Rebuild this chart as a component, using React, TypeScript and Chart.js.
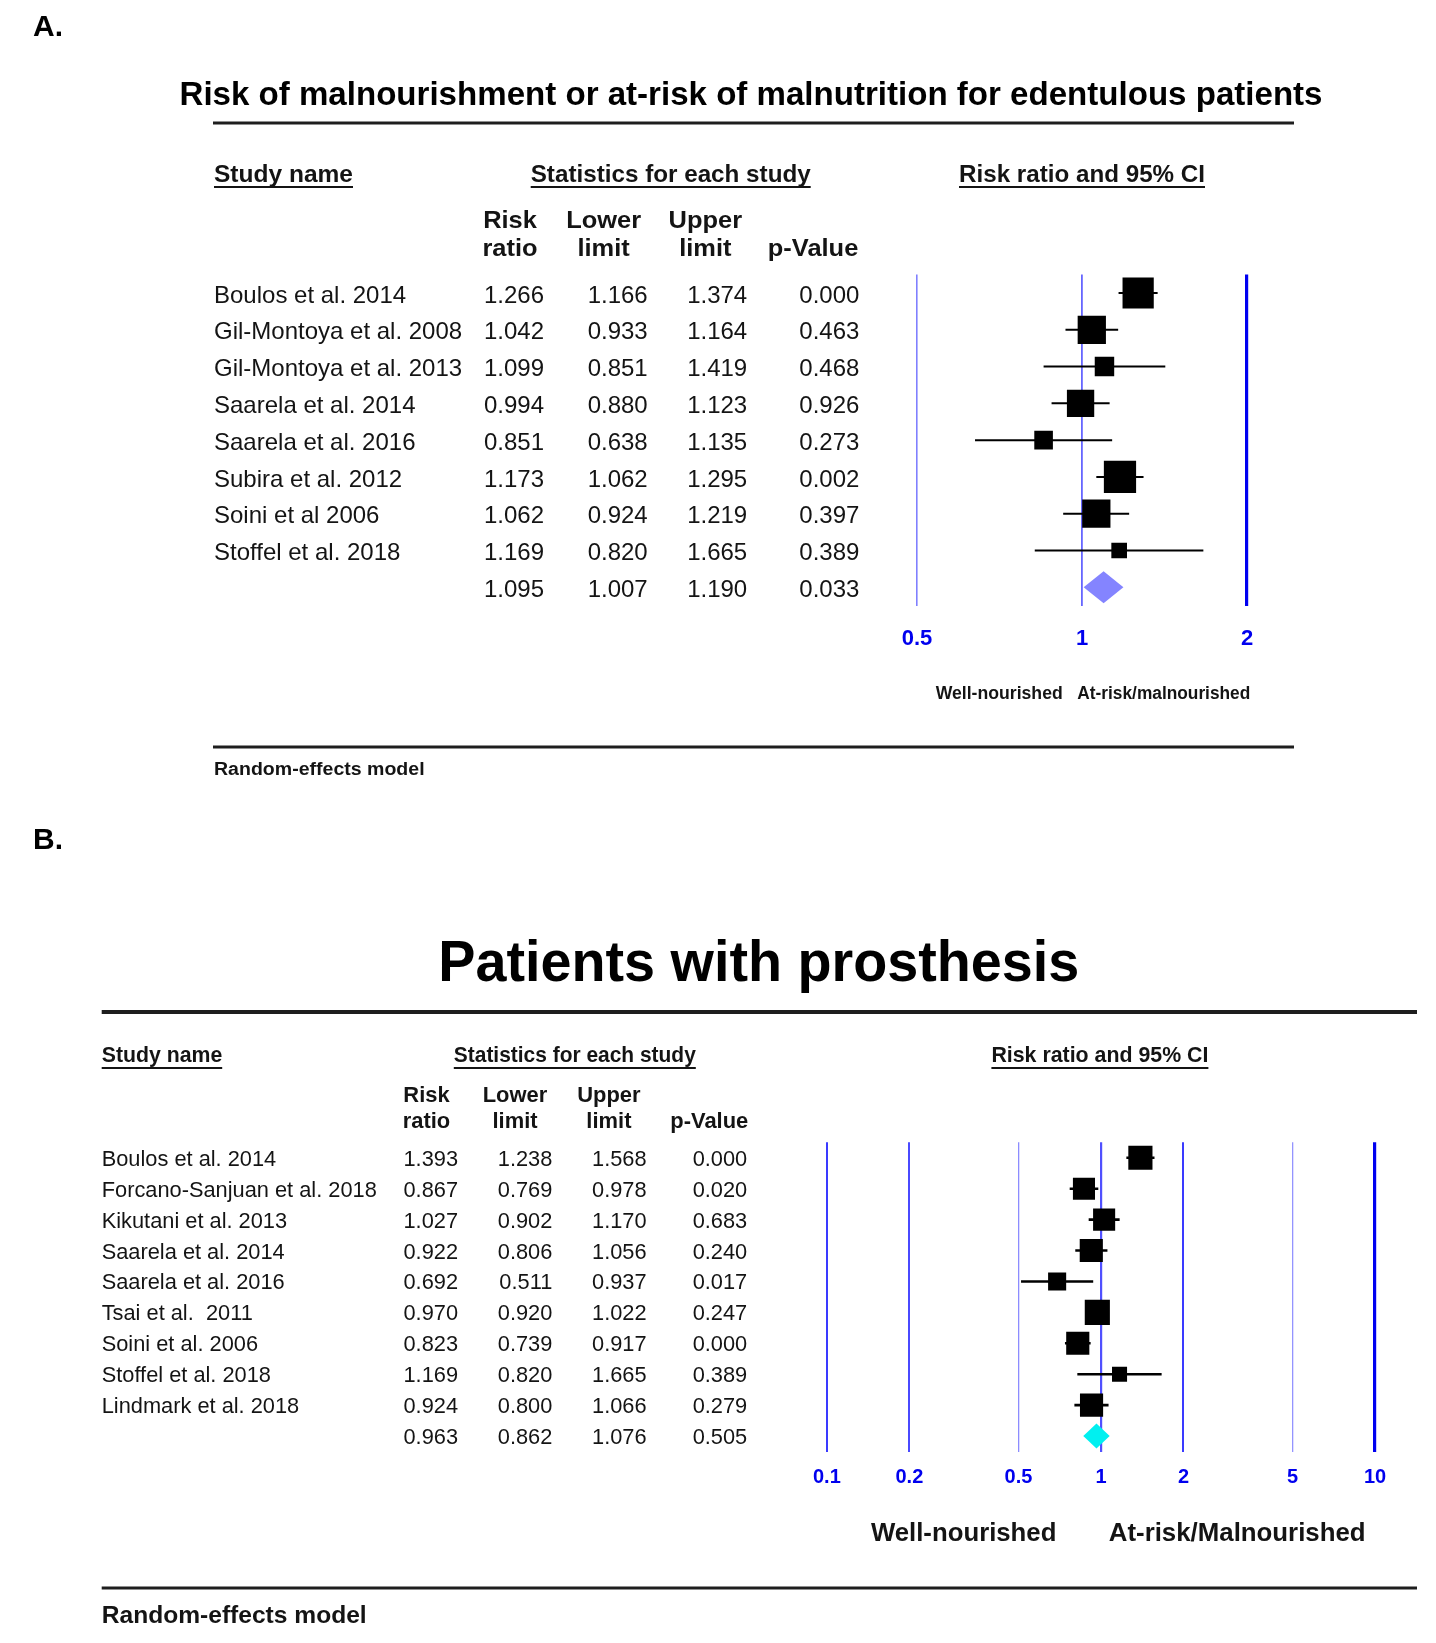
import React, { useEffect, useRef } from 'react';
import { Chart, registerables } from 'chart.js';

Chart.register(...registerables);

// ---------- Panel A data ----------
const titleA = 'Risk of malnourishment or at-risk of malnutrition for edentulous patients';
const studiesA = [
  'Boulos et al. 2014',
  'Gil-Montoya et al. 2008',
  'Gil-Montoya et al. 2013',
  'Saarela et al. 2014',
  'Saarela et al. 2016',
  'Subira et al. 2012',
  'Soini et al 2006',
  'Stoffel et al. 2018',
];
const rrA = [1.266, 1.042, 1.099, 0.994, 0.851, 1.173, 1.062, 1.169];
const lowerA = [1.166, 0.933, 0.851, 0.88, 0.638, 1.062, 0.924, 0.82];
const upperA = [1.374, 1.164, 1.419, 1.123, 1.135, 1.295, 1.219, 1.665];
const pA = [0.0, 0.463, 0.468, 0.926, 0.273, 0.002, 0.397, 0.389];
const weightsA = [18.3, 15.0, 7.1, 14.0, 6.5, 19.5, 15.0, 4.6];
const summaryA = [1.095, 1.007, 1.19];
const summaryPA = 0.033;
const ticksA = [0.5, 1, 2];
const directionA = ['Well-nourished', 'At-risk/malnourished'];

// ---------- Panel B data ----------
const titleB = 'Patients with prosthesis';
const studiesB = [
  'Boulos et al. 2014',
  'Forcano-Sanjuan et al. 2018',
  'Kikutani et al. 2013',
  'Saarela et al. 2014',
  'Saarela et al. 2016',
  'Tsai et al.  2011',
  'Soini et al. 2006',
  'Stoffel et al. 2018',
  'Lindmark et al. 2018',
];
const rrB = [1.393, 0.867, 1.027, 0.922, 0.692, 0.97, 0.823, 1.169, 0.924];
const lowerB = [1.238, 0.769, 0.902, 0.806, 0.511, 0.92, 0.739, 0.82, 0.8];
const upperB = [1.568, 0.978, 1.17, 1.056, 0.937, 1.022, 0.917, 1.665, 1.066];
const pB = [0.0, 0.02, 0.683, 0.24, 0.017, 0.247, 0.0, 0.389, 0.279];
const weightsB = [13.4, 11.2, 11.2, 12.3, 7.5, 14.5, 12.3, 5.2, 12.3];
const summaryB = [0.963, 0.862, 1.076];
const summaryPB = 0.505;
const ticksB = [0.1, 0.2, 0.5, 1, 2, 5, 10];
const directionB = ['Well-nourished', 'At-risk/Malnourished'];

const colHeads = [['Risk', 'ratio'], ['Lower', 'limit'], ['Upper', 'limit'], ['', 'p-Value']];
const sectionHeads = ['Study name', 'Statistics for each study', 'Risk ratio and 95% CI'];
const footer = 'Random-effects model';

const FONT = '"Liberation Sans", Arial, Helvetica, sans-serif';
const INK = '#141414';
const W = 1436;
const H = 1643;

type TOpt = {
  size: number;
  bold?: boolean;
  align?: 'left' | 'right' | 'center';
  w?: number;
  sx?: number;
  color?: string;
  underline?: number;
};

function drawText(ctx: CanvasRenderingContext2D, s: string, x: number, y: number, o: TOpt) {
  ctx.save();
  ctx.font = `${o.bold ? 'bold ' : ''}${o.size}px ${FONT}`;
  ctx.fillStyle = o.color || INK;
  ctx.textBaseline = 'middle';
  ctx.textAlign = 'left';
  const m = ctx.measureText(s).width;
  const sx = o.w ? o.w / m : o.sx || 1;
  const tw = m * sx;
  const align = o.align || 'left';
  const left = align === 'left' ? x : align === 'right' ? x - tw : x - tw / 2;
  ctx.translate(left, y);
  ctx.scale(sx, 1);
  ctx.fillText(s, 0, 0);
  ctx.restore();
  if (o.underline) {
    ctx.save();
    ctx.strokeStyle = INK;
    ctx.lineWidth = 2;
    ctx.beginPath();
    ctx.moveTo(left, y + o.underline);
    ctx.lineTo(left + tw, y + o.underline);
    ctx.stroke();
    ctx.restore();
  }
}

function rule(ctx: CanvasRenderingContext2D, x1: number, x2: number, y: number, lw: number) {
  ctx.save();
  ctx.strokeStyle = '#1e1e1e';
  ctx.lineWidth = lw;
  ctx.beginPath();
  ctx.moveTo(x1, y);
  ctx.lineTo(x2, y);
  ctx.stroke();
  ctx.restore();
}

type Panel = {
  id: string;
  label: string;
  title: string;
  studies: string[];
  rr: number[];
  lower: number[];
  upper: number[];
  p: number[];
  weights: number[];
  summary: number[];
  summaryP: number;
  ticks: number[];
  direction: string[];
  L: any;
};

const layoutA = {
  area: { left: 917, right: 1247, top: 274.6, bottom: 605.7 },
  tickSize: 22,
  tickPad: 20,
  grid: { color: ['#8080ff', '#6666ff', '#0000f0'], width: [1.6, 1.8, 3.2] },
  whisker: 2,
  box: 7.3,
  diamondH: 16,
  diamondColor: '#8484ff',
  label: { x: 33, y: 28, size: 30 },
  title: { cx: 751, y: 96, size: 33, w: 1143 },
  ruleTop: { x1: 213, x2: 1294, y: 123, lw: 3 },
  heads: { y: 175, size: 24, ul: 12, items: [{ x: 214, w: 139, align: 'left' }, { x: 670.7, w: 280, align: 'center' }, { x: 1082, w: 246, align: 'center' }] },
  colHead: { y1: 221, y2: 249, size: 24, sx: 1.06, xs: [510, 603.6, 705.3, 858.3], aligns: ['center', 'center', 'center', 'right'] },
  rows: { nameX: 214, size: 24, dy: 3, numX: [544, 647.7, 747.2, 859.4] },
  dir: { y: 694, size: 17.5, leftRight: 1062.7, rightLeft: 1077.3, w1: 127, w2: 173 },
  ruleBottom: { x1: 213, x2: 1294, y: 747, lw: 3 },
  footer: { x: 214, y: 770, size: 18, w: 210.6 },
};

const layoutB = {
  area: { left: 826.9, right: 1375, top: 1142.3, bottom: 1451.5 },
  tickSize: 20,
  tickPad: 14,
  grid: {
    color: ['#3a3aff', '#4a4aff', '#8c8cff', '#5050ff', '#3a3aff', '#9494ff', '#0000f0'],
    width: [2, 2, 1.3, 2.2, 2, 1.3, 3.2],
  },
  whisker: 2.6,
  box: 6.6,
  diamondH: 12.5,
  diamondColor: '#00f0f0',
  label: { x: 33, y: 841, size: 30 },
  title: { cx: 758.8, y: 965, size: 57, w: 641 },
  ruleTop: { x1: 101.7, x2: 1417, y: 1012, lw: 4 },
  heads: { y: 1056, size: 21.5, ul: 12, items: [{ x: 101.7, w: 120.5, align: 'left' }, { x: 574.8, w: 242, align: 'center' }, { x: 1099.9, w: 217, align: 'center' }] },
  colHead: { y1: 1096, y2: 1122, size: 21.5, sx: 1.02, xs: [426.5, 515, 608.9, 748.3], aligns: ['center', 'center', 'center', 'right'] },
  rows: { nameX: 101.7, size: 21.8, dy: 2, numX: [458, 552.3, 646.6, 747.2] },
  dir: { y: 1534, size: 25.5, leftRight: 1056.4, rightLeft: 1108.8, w1: 185.5, w2: 256.8 },
  ruleBottom: { x1: 101.7, x2: 1417, y: 1588, lw: 3 },
  footer: { x: 101.7, y: 1616, size: 24, w: 265 },
};

const panelA: Panel = {
  id: 'A', label: 'A.', title: titleA, studies: studiesA, rr: rrA, lower: lowerA, upper: upperA,
  p: pA, weights: weightsA, summary: summaryA, summaryP: summaryPA, ticks: ticksA, direction: directionA, L: layoutA,
};
const panelB: Panel = {
  id: 'B', label: 'B.', title: titleB, studies: studiesB, rr: rrB, lower: lowerB, upper: upperB,
  p: pB, weights: weightsB, summary: summaryB, summaryP: summaryPB, ticks: ticksB, direction: directionB, L: layoutB,
};

function makePlugin(P: Panel) {
  const L = P.L;
  return {
    id: 'forest' + P.id,
    afterDatasetsDraw(chart: any) {
      const ctx: CanvasRenderingContext2D = chart.ctx;
      const xs = chart.scales.x;
      const ys = chart.scales.y;
      const yc = ys.getPixelForValue(P.studies.length);
      const xc = xs.getPixelForValue(P.summary[0]);
      const xl = xs.getPixelForValue(P.summary[1]);
      const xr = xs.getPixelForValue(P.summary[2]);
      ctx.save();
      ctx.fillStyle = L.diamondColor;
      ctx.beginPath();
      ctx.moveTo(xl, yc);
      ctx.lineTo(xc, yc - L.diamondH);
      ctx.lineTo(xr, yc);
      ctx.lineTo(xc, yc + L.diamondH);
      ctx.closePath();
      ctx.fill();
      ctx.restore();
    },
    afterDraw(chart: any) {
      const ctx: CanvasRenderingContext2D = chart.ctx;
      const ys = chart.scales.y;
      drawText(ctx, P.label, L.label.x, L.label.y, { size: L.label.size, bold: true, color: '#000' });
      drawText(ctx, P.title, L.title.cx, L.title.y, { size: L.title.size, bold: true, align: 'center', w: L.title.w, color: '#000' });
      rule(ctx, L.ruleTop.x1, L.ruleTop.x2, L.ruleTop.y, L.ruleTop.lw);
      sectionHeads.forEach((h, i) => {
        const it = L.heads.items[i];
        drawText(ctx, h, it.x, L.heads.y, { size: L.heads.size, bold: true, align: it.align, w: it.w, underline: L.heads.ul });
      });
      colHeads.forEach((pair, i) => {
        const a = L.colHead.aligns[i];
        if (pair[0]) drawText(ctx, pair[0], L.colHead.xs[i], L.colHead.y1, { size: L.colHead.size, bold: true, align: a, sx: L.colHead.sx });
        drawText(ctx, pair[1], L.colHead.xs[i], L.colHead.y2, { size: L.colHead.size, bold: true, align: a, sx: L.colHead.sx });
      });
      const R = L.rows;
      P.studies.forEach((name, i) => {
        const y = ys.getPixelForValue(i) + R.dy;
        drawText(ctx, name, R.nameX, y, { size: R.size });
        const vals = [P.rr[i], P.lower[i], P.upper[i], P.p[i]];
        vals.forEach((v, j) => drawText(ctx, v.toFixed(3), R.numX[j], y, { size: R.size, align: 'right' }));
      });
      const ySum = ys.getPixelForValue(P.studies.length) + R.dy;
      [P.summary[0], P.summary[1], P.summary[2], P.summaryP].forEach((v, j) =>
        drawText(ctx, v.toFixed(3), R.numX[j], ySum, { size: R.size, align: 'right' })
      );
      drawText(ctx, P.direction[0], L.dir.leftRight, L.dir.y, { size: L.dir.size, bold: true, align: 'right', w: L.dir.w1 });
      drawText(ctx, P.direction[1], L.dir.rightLeft, L.dir.y, { size: L.dir.size, bold: true, align: 'left', w: L.dir.w2 });
      rule(ctx, L.ruleBottom.x1, L.ruleBottom.x2, L.ruleBottom.y, L.ruleBottom.lw);
      drawText(ctx, footer, L.footer.x, L.footer.y, { size: L.footer.size, bold: true, w: L.footer.w });
    },
  };
}

function makeConfig(P: Panel): any {
  const L = P.L;
  const axisH = 60;
  const datasets: any[] = [];
  const radius = (c: any) => (L.box * Math.sqrt(P.weights[c.dataIndex] || 0)) / Math.SQRT2;
  datasets.push({
    type: 'scatter',
    data: P.rr.map((v, i) => ({ x: v, y: i })),
    pointStyle: 'rect',
    pointRadius: radius,
    pointHoverRadius: radius,
    backgroundColor: '#000',
    borderWidth: 0,
    order: 0,
  });
  P.lower.forEach((lo, i) => {
    datasets.push({
      type: 'scatter',
      showLine: true,
      data: [{ x: lo, y: i }, { x: P.upper[i], y: i }],
      borderColor: '#000',
      borderWidth: L.whisker,
      pointRadius: 0,
      pointHoverRadius: 0,
      order: 1,
    });
  });
  return {
    type: 'scatter',
    data: { datasets },
    plugins: [makePlugin(P)],
    options: {
      animation: false,
      responsive: false,
      events: [],
      layout: {
        padding: {
          left: L.area.left,
          right: W - L.area.right,
          top: L.area.top,
          bottom: H - L.area.bottom - axisH,
        },
      },
      plugins: { legend: { display: false }, tooltip: { enabled: false }, title: { display: false } },
      scales: {
        x: {
          type: 'logarithmic',
          min: P.ticks[0],
          max: P.ticks[P.ticks.length - 1],
          afterBuildTicks: (s: any) => {
            s.ticks = P.ticks.map((v) => ({ value: v }));
          },
          afterFit: (s: any) => {
            s.height = axisH;
          },
          border: { display: false },
          grid: {
            drawTicks: false,
            color: (c: any) => L.grid.color[c.index] || '#8080ff',
            lineWidth: (c: any) => L.grid.width[c.index] || 1,
          },
          ticks: {
            autoSkip: false,
            maxRotation: 0,
            minRotation: 0,
            padding: L.tickPad,
            color: '#0000ee',
            font: { family: FONT, size: L.tickSize, weight: 'bold' },
            callback: (v: any) => String(v),
          },
        },
        y: {
          type: 'linear',
          min: -0.5,
          max: P.studies.length + 0.5,
          reverse: true,
          display: false,
        },
      },
    },
  };
}

export default function App() {
  const refA = useRef<HTMLCanvasElement>(null);
  const refB = useRef<HTMLCanvasElement>(null);
  useEffect(() => {
    const a = new Chart(refA.current as HTMLCanvasElement, makeConfig(panelA));
    const b = new Chart(refB.current as HTMLCanvasElement, makeConfig(panelB));
    return () => {
      a.destroy();
      b.destroy();
    };
  }, []);
  const cs: React.CSSProperties = { position: 'absolute', left: 0, top: 0, width: W, height: H, display: 'block' };
  return (
    <div style={{ position: 'absolute', left: 0, top: 0, width: W, height: H, background: '#fff', overflow: 'hidden' }}>
      <canvas ref={refB} width={W} height={H} style={cs} />
      <canvas ref={refA} width={W} height={H} style={cs} />
    </div>
  );
}
